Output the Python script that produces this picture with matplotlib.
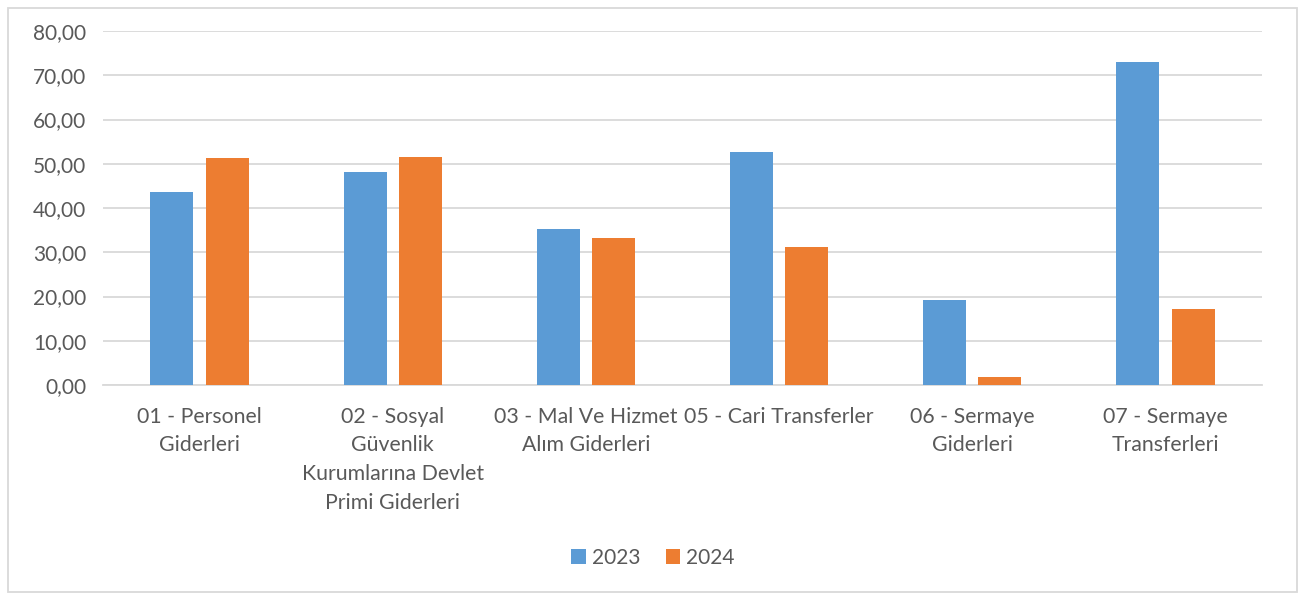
import matplotlib
matplotlib.use("Agg")
import matplotlib.pyplot as plt
import numpy as np
from matplotlib.patches import Rectangle

categories = ["01 - Personel\nGiderleri",
              "02 - Sosyal\nGüvenlik\nKurumlarına Devlet\nPrimi Giderleri",
              "03 - Mal Ve Hizmet\nAlım Giderleri",
              "05 - Cari Transferler",
              "06 - Sermaye\nGiderleri",
              "07 - Sermaye\nTransferleri"]
values_2023 = [43.6, 48.1, 35.2, 52.6, 19.3, 73.1]
values_2024 = [51.2, 51.5, 33.2, 31.2, 1.9, 17.2]
series_labels = ["2023", "2024"]
yticks = [0, 10, 20, 30, 40, 50, 60, 70, 80]

plt.rcParams['font.family'] = ['Lato', 'DejaVu Sans']
TEXT = "#595959"
GRID = "#d9d9d9"

fig = plt.figure(figsize=(13.05, 5.99), dpi=100)
ax = fig.add_axes([103/1305, 1-385/599, (1262-103)/1305, (385-31)/599])

x = np.arange(len(categories))
w = 0.223
off = 0.143
ax.bar(x - off, values_2023, w, color="#5B9BD5", label=series_labels[0], zorder=3)
ax.bar(x + off, values_2024, w, color="#ED7D31", label=series_labels[1], zorder=3)

ax.set_xlim(-0.5, len(categories) - 0.5)
ax.set_ylim(0, 80)
ax.set_yticks(yticks)
ax.set_yticklabels([f"{v:.2f}".replace(".", ",") for v in yticks], fontsize=15, color=TEXT)
ax.set_xticks(x)
ax.set_xticklabels(categories, fontsize=15.3, color=TEXT, linespacing=1.55)
ax.tick_params(axis='both', length=0)
ax.tick_params(axis='y', pad=12)
ax.tick_params(axis='x', pad=15.5)
ax.grid(axis='y', color=GRID, linewidth=1.3, zorder=0)
for s in ['top', 'right', 'left']:
    ax.spines[s].set_visible(False)
ax.spines['bottom'].set_color(GRID)
ax.spines['bottom'].set_linewidth(1.3)

leg = fig.legend(loc='center', bbox_to_anchor=(653/1305, 1-558/599), ncol=2, frameon=False,
                 fontsize=15, handlelength=0.7, handleheight=0.7, handletextpad=0.3,
                 columnspacing=1.2)
for t in leg.get_texts():
    t.set_color(TEXT)

fig.patches.append(Rectangle((8/1305, 7/599), (1297-8)/1305, (592-8)/599,
                             transform=fig.transFigure, fill=False,
                             edgecolor=GRID, linewidth=1.3))

fig.savefig("out.png", dpi=100)
